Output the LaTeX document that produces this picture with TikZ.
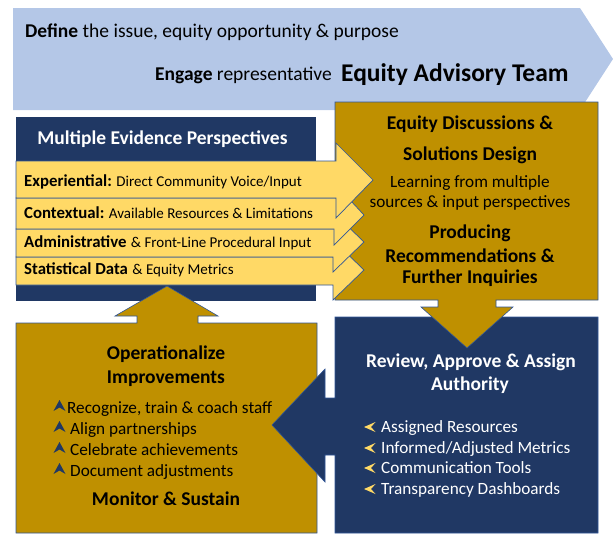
\documentclass[tikz,border=0pt]{standalone}
\usepackage{fontspec}
\setmainfont{Carlito}
\definecolor{topblue}{HTML}{B4C7E7}
\definecolor{navy}{HTML}{203864}
\definecolor{gold}{HTML}{BF9000}
\definecolor{yel}{HTML}{FFD966}
\definecolor{edge}{HTML}{2F5597}
\begin{document}
\begin{tikzpicture}[x=1pt,y=-1pt,
  hdfont/.style={font=\fontsize{19.5}{22}\selectfont\bfseries},
  txt/.style={inner sep=0pt, anchor=base},
  txtw/.style={inner sep=0pt, anchor=base west},
  hd/.style={txt, hdfont},
  body/.style={font=\fontsize{17.2}{20}\selectfont},
  yarrow/.style={fill=yel, draw=edge, line width=0.7pt, line join=miter},
  navybullet/.style={fill=navy},
  goldbullet/.style={fill=yel}
]
\useasboundingbox (0,0) rectangle (613,541);
% top banner arrow
\fill[topblue] (13,8) -- (580,8) -- (613,59) -- (580,110) -- (13,110) -- cycle;
% Multiple evidence box
\fill[navy] (16,117) rectangle (316,301);
% Operationalize callout (up arrow)
\filldraw[fill=gold, draw=edge, line width=0.6pt]
  (16,323) -- (137,323) -- (137,316) -- (115,316) -- (167,286) -- (218,316)
  -- (198,316) -- (198,323) -- (317,323) -- (317,533) -- (16,533) -- cycle;
% Review callout (left arrow)
\filldraw[fill=navy, draw=edge, line width=0.6pt]
  (335,317) -- (598,317) -- (598,533) -- (335,533) -- (335,455) -- (325,455)
  -- (325,482) -- (272,425) -- (325,369) -- (325,398) -- (335,398) -- cycle;
% Equity discussions callout (down arrow)
\filldraw[fill=gold, draw=edge, line width=0.6pt]
  (335,102) -- (598,102) -- (598,300) -- (496,300) -- (496,307) -- (513,307)
  -- (467,348) -- (421,307) -- (438,307) -- (438,300) -- (335,300) -- cycle;
% yellow arrows (bottom first)
\draw[yarrow] (16,257) -- (333,257) -- (333,240) -- (364,270) -- (333,300) -- (333,285) -- (16,285) -- cycle;
\draw[yarrow] (16,229) -- (333,229) -- (333,212) -- (364,242) -- (333,272) -- (333,257) -- (16,257) -- cycle;
\draw[yarrow] (16,198) -- (336,198) -- (336,185) -- (364,215) -- (334,245) -- (334,229) -- (16,229) -- cycle;
\draw[yarrow] (16,161) -- (336,161) -- (336,143) -- (373,180) -- (336,218) -- (336,198) -- (16,198) -- cycle;

% top texts
\node[txtw, font=\fontsize{19.5}{22}\selectfont] (define) at (25,37) {\textbf{Define} the issue, equity opportunity \& purpose};
\node[txtw, font=\fontsize{19.5}{22}\selectfont] (engage) at (155,80) {\textbf{Engage} representative};
\node[txtw, font=\fontsize{25.5}{28}\selectfont\bfseries] (eat) at (341,81) {Equity Advisory Team};

% multiple evidence
\node[hd, text=white] (mep) at (162.5,144) {Multiple Evidence Perspectives};
\node[txtw] (exp) at (24,186) {{\fontsize{16.8}{19}\selectfont\bfseries Experiential:}\hspace{4.5pt}{\fontsize{15}{18}\selectfont Direct Community Voice/Input}};
\node[txtw] (ctx) at (24,218) {{\fontsize{16.8}{19}\selectfont\bfseries Contextual:}\hspace{4.5pt}{\fontsize{15}{18}\selectfont Available Resources \& Limitations}};
\node[txtw] (adm) at (24,247) {{\fontsize{16.8}{19}\selectfont\bfseries Administrative}\hspace{4.5pt}{\fontsize{15}{18}\selectfont \& Front-Line Procedural Input}};
\node[txtw] (sta) at (24,274) {{\fontsize{16.8}{19}\selectfont\bfseries Statistical Data}\hspace{4.5pt}{\fontsize{15}{18}\selectfont \& Equity Metrics}};

% equity discussions
\node[hd] (ed1) at (470,129) {Equity Discussions \&};
\node[hd] (ed2) at (470,160) {Solutions Design};
\node[txt, body] (ed3) at (470,187) {Learning from multiple};
\node[txt, body] (ed4) at (470,207) {sources \& input perspectives};
\node[hd] (ed5) at (470,238) {Producing};
\node[hd] (ed6) at (470,262) {Recommendations \&};
\node[hd] (ed7) at (470,283) {Further Inquiries};

% review
\node[hd, text=white] (rv1) at (471,367) {Review, Approve \& Assign};
\node[hd, text=white] (rv2) at (470,390) {Authority};
\node[txtw, body, text=white] (rb1) at (381,432) {Assigned Resources};
\node[txtw, body, text=white] (rb2) at (381,453) {Informed/Adjusted Metrics};
\node[txtw, body, text=white] (rb3) at (381,473) {Communication Tools};
\node[txtw, body, text=white] (rb4) at (381,494) {Transparency Dashboards};
\foreach \yy in {432,453,473,494}{
  \fill[goldbullet] (364,\yy-5) -- ++(11.5,-5) -- ++(-4.5,5) -- ++(4.5,5) -- cycle;
}

% operationalize
\node[hd] (op1) at (166,359) {Operationalize};
\node[hd] (op2) at (166,383) {Improvements};
\node[txtw, body] (ob1) at (67,413) {Recognize, train \& coach staff};
\node[txtw, body] (ob2) at (70,434) {Align partnerships};
\node[txtw, body] (ob3) at (70,455) {Celebrate achievements};
\node[txtw, body] (ob4) at (70,476) {Document adjustments};
\foreach \yy in {413,434,455,476}{
  \fill[navybullet] (59.5,\yy-13) -- ++(6,11) -- ++(-6,-3.5) -- ++(-6,3.5) -- cycle;
}
\node[hd] (op3) at (166,505) {Monitor \& Sustain};
\end{tikzpicture}
\end{document}
